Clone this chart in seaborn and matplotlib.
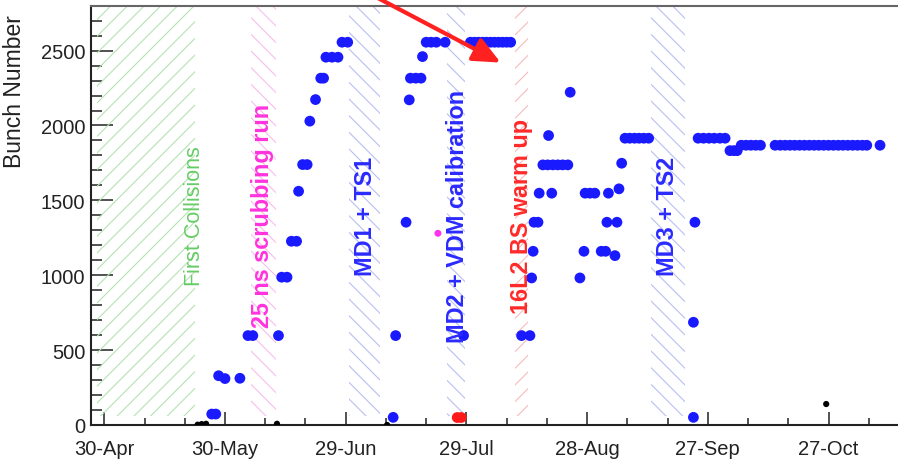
import pandas as pd
import matplotlib.pyplot as plt
import matplotlib.dates as mdates
import seaborn as sns

sns.set_theme(style="ticks")
plt.rcParams['font.family'] = ['Liberation Sans', 'DejaVu Sans']
plt.rcParams['hatch.linewidth'] = 0.8

# --- data ---
blue_dates = [
    "2015-05-26 17:00", "2015-05-27 17:00", "2015-05-28 10:00", "2015-05-30 00:00",
    "2015-06-02 17:00", "2015-06-04 17:00", "2015-06-05 22:00", "2015-06-12 07:00",
    "2015-06-13 02:00", "2015-06-14 10:00", "2015-06-15 12:00", "2015-06-16 19:00",
    "2015-06-17 07:00", "2015-06-18 07:00", "2015-06-19 10:00", "2015-06-20 02:00",
    "2015-06-21 12:00", "2015-06-22 19:00", "2015-06-23 12:00", "2015-06-24 02:00",
    "2015-06-25 14:00", "2015-06-27 02:00", "2015-06-28 02:00", "2015-06-29 12:00",
    "2015-07-10 19:00", "2015-07-11 10:00", "2015-07-14 00:00", "2015-07-14 19:00",
    "2015-07-15 02:00", "2015-07-16 10:00", "2015-07-17 17:00", "2015-07-18 02:00",
    "2015-07-19 00:00", "2015-07-20 05:00", "2015-07-21 12:00", "2015-07-23 17:00",
    "2015-07-28 07:00", "2015-07-30 00:00", "2015-07-31 00:00", "2015-08-01 00:00",
    "2015-08-02 00:00", "2015-08-03 00:00", "2015-08-04 00:00", "2015-08-05 00:00",
    "2015-08-06 00:00", "2015-08-07 00:00", "2015-08-08 00:00", "2015-08-09 00:00",
    "2015-08-11 17:00", "2015-08-13 19:00", "2015-08-14 05:00", "2015-08-14 14:00",
    "2015-08-14 19:00", "2015-08-15 19:00", "2015-08-16 02:00", "2015-08-19 05:00",
    "2015-08-17 00:00", "2015-08-18 05:00", "2015-08-19 12:00", "2015-08-20 17:00",
    "2015-08-21 22:00", "2015-08-23 05:00", "2015-08-18 10:00", "2015-08-23 19:00",
    "2015-08-26 05:00", "2015-08-27 05:00", "2015-08-27 12:00", "2015-08-28 17:00",
    "2015-08-29 22:00", "2015-08-31 12:00", "2015-09-01 14:00", "2015-09-01 22:00",
    "2015-09-02 07:00", "2015-09-03 22:00", "2015-09-04 10:00", "2015-09-04 22:00",
    "2015-09-05 14:00", "2015-09-06 10:00", "2015-09-07 14:00", "2015-09-08 19:00",
    "2015-09-09 22:00", "2015-09-11 02:00", "2015-09-12 07:00",
    "2015-09-23 10:00", "2015-09-23 10:00", "2015-09-23 19:00",
    "2015-09-24 14:00", "2015-09-25 22:00", "2015-09-27 07:00", "2015-09-28 14:00",
    "2015-09-30 00:00", "2015-10-01 07:00", "2015-10-02 12:00", "2015-10-03 12:00",
    "2015-10-04 07:00", "2015-10-05 07:00", "2015-10-06 12:00", "2015-10-07 17:00",
    "2015-10-08 22:00", "2015-10-10 02:00", "2015-10-13 17:00", "2015-10-15 00:00",
    "2015-10-16 05:00", "2015-10-17 10:00", "2015-10-18 14:00", "2015-10-19 19:00",
    "2015-10-21 00:00", "2015-10-22 05:00", "2015-10-23 10:00", "2015-10-24 14:00",
    "2015-10-25 19:00", "2015-10-27 00:00", "2015-10-28 05:00", "2015-10-29 10:00",
    "2015-10-30 14:00", "2015-10-31 19:00", "2015-11-02 00:00", "2015-11-03 05:00",
    "2015-11-04 10:00", "2015-11-05 12:00", "2015-11-08 19:00",
]
blue_values = [
    73, 73, 329, 310,
    312, 597, 597, 597,
    987, 987, 1227, 1227,
    1561, 1739, 1739, 2029,
    2173, 2316, 2316, 2456,
    2456, 2456, 2556, 2556,
    51, 597, 1354, 2171,
    2316, 2316, 2316, 2460,
    2556, 2556, 2556, 2556,
    597, 2556, 2556, 2556,
    2556, 2556, 2556, 2556,
    2556, 2556, 2556, 2556,
    597, 597, 982, 1160,
    1354, 1354, 1548, 1548,
    1737, 1737, 1737, 1737,
    1737, 1737, 1933, 2222,
    982, 1160, 1548, 1548,
    1548, 1160, 1160, 1354,
    1548, 1131, 1354, 1577,
    1748, 1915, 1915, 1915,
    1915, 1915, 1915,
    51, 686, 1354,
    1915, 1915, 1915, 1915,
    1915, 1915, 1832, 1832,
    1832, 1868, 1868, 1868,
    1868, 1868, 1868, 1868,
    1868, 1868, 1868, 1868,
    1868, 1868, 1868, 1868,
    1868, 1868, 1868, 1868,
    1868, 1868, 1868, 1868,
    1868, 1868, 1868,
]

black_dates = ["2015-05-23 05:00", "2015-05-24 05:00", "2015-05-25 07:00",
               "2015-06-11 22:00", "2015-07-09 07:00", "2015-10-26 10:00"]
black_values = [2, 6, 8, 8, 0, 140]

red_dates = ["2015-07-26 17:00", "2015-07-27 17:00"]
red_values = [50, 50]

pink_dates = ["2015-07-21 22:00"]
pink_values = [1280]

# shaded periods: start, end, label, label position, colours
band_starts = ["2015-04-28 05:00", "2015-06-05 14:00", "2015-06-29 22:00",
               "2015-07-24 02:00", "2015-08-10 02:00", "2015-09-12 22:00"]
band_ends = ["2015-05-22 12:00", "2015-06-11 17:00", "2015-07-07 10:00",
             "2015-07-28 17:00", "2015-08-13 10:00", "2015-09-21 10:00"]
band_labels = ["First Collisions", "25 ns scrubbing run", "MD1 + TS1",
               "MD2 + VDM calibration", "16L2 BS warm up", "MD3 + TS2"]
label_dates = ["2015-05-22 12:00", "2015-06-08 07:00", "2015-07-04 00:00",
               "2015-07-26 19:00", "2015-08-11 14:00", "2015-09-17 02:00"]
hatch_colors = ["#b4e2b4", "#f8bdeb", "#b8bff2", "#b8bff2", "#f6bcbc", "#b8bff2"]
text_colors = ["#66cc66", "#ff33dd", "#2a2aff", "#2a2aff", "#ff2a2a", "#2a2aff"]
hatches = ["//", "\\\\", "\\\\", "\\\\", "//", "\\\\"]

tick_dates = ["2015-04-30", "2015-05-30", "2015-06-29", "2015-07-29",
              "2015-08-28", "2015-09-27", "2015-10-27"]
tick_labels = ["30-Apr", "30-May", "29-Jun", "29-Jul", "28-Aug", "27-Sep", "27-Oct"]

# --- figure ---
fig = plt.figure(figsize=(8.98, 4.64), dpi=100)
ax = fig.add_axes([0.101, 0.0819, 0.9068, 0.9037])

for s, e, hc, h in zip(band_starts, band_ends, hatch_colors, hatches):
    ax.fill_between(pd.to_datetime([s, e]), 60, 2800, facecolor="none",
                    edgecolor=hc, hatch=h, linewidth=0, zorder=1)

sns.scatterplot(x=pd.to_datetime(blue_dates), y=blue_values, color="#1a1aff",
                s=60, edgecolor="none", ax=ax, zorder=3, legend=False)
sns.scatterplot(x=pd.to_datetime(black_dates), y=black_values, color="black",
                s=20, edgecolor="none", ax=ax, zorder=3, legend=False)
sns.scatterplot(x=pd.to_datetime(red_dates), y=red_values, color="#ff1a1a",
                s=60, edgecolor="none", ax=ax, zorder=3, legend=False)
sns.scatterplot(x=pd.to_datetime(pink_dates), y=pink_values, color="#ff33ee",
                s=25, edgecolor="none", ax=ax, zorder=3, legend=False)

for lab, d, c in zip(band_labels, label_dates, text_colors):
    if lab == "First Collisions":
        weight, size = "normal", 15.5
    else:
        weight, size = "bold", 16.8
    ax.text(mdates.date2num(pd.Timestamp(d)), 1400, lab, rotation=90,
            ha="center", va="center", color=c, fontsize=size,
            fontweight=weight, zorder=4)

# red arrow coming in from above the frame
ax.annotate("", xy=(mdates.date2num(pd.Timestamp("2015-08-06 12:00")), 2420),
            xytext=(mdates.date2num(pd.Timestamp("2015-06-30 19:00")), 2939),
            arrowprops=dict(arrowstyle="-|>,head_length=1.1,head_width=0.5",
                            color="#ff2020", lw=3, mutation_scale=15,
                            shrinkA=0, shrinkB=0),
            annotation_clip=False, zorder=5)

ax.set_xlim(pd.Timestamp("2015-04-26 15:00"), pd.Timestamp("2015-11-15 00:00"))
ax.set_ylim(0, 2800)
ax.set_xticks(pd.to_datetime(tick_dates))
ax.set_xticklabels(tick_labels)
ax.set_xticks(pd.date_range("2015-05-10", "2015-11-10", freq="10D"), minor=True)
ax.set_yticks([0, 500, 1000, 1500, 2000, 2500])
ax.set_yticks(range(0, 2801, 100), minor=True)

ax.tick_params(axis="both", which="both", direction="in", colors="#222222",
               top=False, right=False)
ax.tick_params(axis="y", which="major", length=16, width=1.1, pad=4, labelsize=14.5)
ax.tick_params(axis="y", which="minor", length=8, width=1.1)
ax.tick_params(axis="x", which="major", length=9.5, width=1.1, pad=10, labelsize=14.5)
ax.tick_params(axis="x", which="minor", length=5, width=1.1)

for side in ["left", "bottom"]:
    ax.spines[side].set_color("#222222")
    ax.spines[side].set_linewidth(1.5)
ax.spines["top"].set_color("#666666")
ax.spines["top"].set_linewidth(1.5)

ax.set_xlabel("")
ax.set_ylabel("Bunch Number", fontsize=16.5, loc="top", color="#222222")
ax.yaxis.set_label_coords(-0.079, 0.98)

fig.savefig("out.png", dpi=100)
